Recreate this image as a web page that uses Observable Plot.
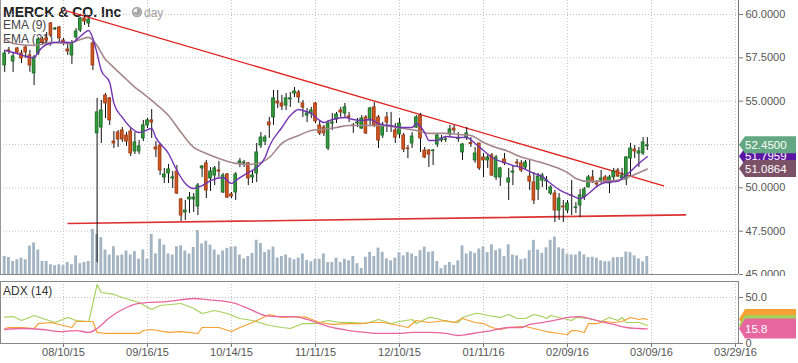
<!DOCTYPE html>
<html><head><meta charset="utf-8">
<script src="https://cdn.jsdelivr.net/npm/d3@7"></script>
<script src="https://cdn.jsdelivr.net/npm/@observablehq/plot@0.6"></script>
<style>
body{margin:0;background:#fff;}
#chart{position:relative;width:798px;height:363px;overflow:hidden;background:#fff;}
</style></head><body><div id="chart"></div>
<script>
// ---------- data ----------
const open = [
57.06,57.93,57.29,58.04,57.75,58.10,57.64,56.60,57.75,58.56,
58.62,59.48,59.14,59.25,58.50,57.98,57.64,58.68,59.08,59.77,
59.48,58.33,53.14,53.48,55.33,55.16,52.67,53.19,53.31,53.02,
53.25,52.10,52.10,52.85,53.60,53.89,52.33,52.44,50.60,50.83,
50.54,50.94,49.33,48.58,49.33,49.33,48.92,51.12,51.41,50.54,
50.71,51.00,49.73,50.77,49.62,49.73,51.41,51.41,51.41,50.60,
50.83,52.44,52.67,53.77,54.06,54.98,54.87,54.75,55.10,55.44,
55.50,54.87,54.17,54.29,54.87,53.60,53.48,52.27,53.71,53.94,
54.46,54.29,54.12,53.60,53.71,53.42,54.06,53.89,54.64,54.06,
53.02,54.06,53.54,53.31,53.08,53.02,52.27,52.56,53.48,54.17,
52.15,52.15,52.12,52.50,52.73,52.76,53.08,53.42,52.82,52.04,
52.90,52.59,51.58,52.56,51.75,51.58,51.87,50.60,50.60,51.64,
50.31,50.88,51.46,51.41,51.17,50.65,50.31,49.90,50.42,50.37,
49.67,49.67,48.69,48.92,48.69,49.56,48.84,48.98,49.44,50.02,
50.60,50.25,50.42,50.60,50.25,50.60,51.00,50.54,50.48,51.69,
52.21,51.98,51.98,52.40];
const high = [
57.93,58.10,57.75,58.10,57.93,58.21,57.93,57.64,58.68,58.68,
58.96,59.54,59.25,59.31,58.62,58.33,58.50,59.19,59.83,59.94,
59.77,58.50,55.16,55.04,55.44,55.21,53.25,53.31,53.48,53.19,
53.42,53.19,52.73,53.89,54.00,54.52,52.67,52.56,51.12,51.35,
50.94,51.29,49.38,49.27,49.73,49.67,50.25,51.29,51.58,51.17,
51.23,51.52,50.83,50.83,49.73,50.88,51.69,51.58,51.46,51.00,
52.56,53.19,53.02,54.06,55.62,55.62,55.33,55.44,55.50,55.79,
55.62,55.04,54.58,54.64,54.92,53.89,53.60,53.89,54.29,54.35,
54.64,54.87,54.35,53.71,54.00,54.17,54.17,54.64,54.92,54.17,
53.77,54.35,54.35,53.71,54.00,53.14,52.44,53.19,54.17,54.29,
52.33,52.21,52.21,53.14,53.02,52.90,53.60,53.60,53.19,52.56,
53.48,52.90,52.33,52.56,51.98,51.87,51.98,51.87,51.17,51.98,
51.12,51.29,51.64,51.58,51.58,51.58,50.88,50.83,50.83,50.65,
50.13,49.85,49.67,49.27,49.27,50.42,49.15,49.90,50.02,50.71,
51.00,50.42,51.00,50.71,50.71,51.12,51.12,51.12,51.81,52.56,
52.44,52.33,52.90,52.90];
const low = [
56.66,57.69,56.66,57.75,57.17,57.46,56.66,55.90,57.64,58.21,
58.27,58.68,59.08,58.39,58.21,57.64,57.12,58.50,58.96,59.37,
59.25,56.77,45.69,52.56,54.00,53.60,52.27,52.33,52.62,52.39,
51.81,51.92,51.92,52.67,53.42,52.85,51.75,50.71,50.25,50.25,
49.96,49.62,48.06,48.12,48.52,48.58,48.40,50.60,49.38,49.79,
50.13,50.60,49.67,49.38,49.38,49.27,51.17,51.17,50.13,50.25,
50.31,52.27,52.44,52.85,53.60,54.58,54.46,54.46,54.64,55.21,
54.87,54.06,53.77,54.00,53.71,53.02,52.96,52.15,53.31,53.71,
54.06,54.06,53.77,53.14,53.48,53.37,53.08,53.60,53.48,52.27,
52.85,53.19,53.19,52.56,52.85,52.04,51.69,52.27,53.42,52.04,
51.69,51.17,51.29,52.33,52.62,52.62,52.90,53.14,52.62,51.58,
52.73,52.33,51.41,51.00,50.60,51.12,50.65,50.42,50.08,51.29,
49.27,50.13,51.17,50.88,51.06,49.85,49.04,49.27,50.02,49.85,
49.56,48.00,48.12,48.00,48.52,48.40,48.52,48.29,49.27,50.02,
50.25,50.02,50.25,50.25,49.67,50.42,50.60,50.42,50.13,50.60,
51.69,51.17,51.87,52.15];
const close = [
57.75,57.88,57.58,57.81,57.46,57.81,57.06,57.52,58.56,58.39,
58.50,58.79,59.19,58.62,58.39,57.87,58.33,59.02,59.77,59.60,
59.71,57.06,54.35,54.46,54.87,53.89,52.56,52.79,52.79,52.67,
51.98,52.62,52.39,53.60,53.89,53.77,52.21,51.00,50.77,51.06,
50.60,49.67,48.40,48.69,49.44,49.44,50.13,51.23,49.85,50.94,
51.12,50.94,50.71,49.44,49.50,50.77,51.52,51.46,50.54,50.71,
52.04,52.90,52.90,53.60,55.16,54.87,54.69,55.16,55.16,55.56,
55.21,54.64,54.29,54.46,53.83,53.14,53.14,53.71,53.77,54.23,
54.35,54.64,54.06,53.57,53.77,54.00,53.14,54.58,53.60,52.73,
53.60,53.77,53.51,52.90,53.71,52.21,52.24,52.96,54.06,52.85,
51.75,51.92,52.15,53.02,52.85,52.79,53.37,53.31,52.85,52.50,
53.14,52.53,51.98,51.12,51.58,51.75,50.71,51.75,51.12,51.41,
50.54,50.94,51.41,51.00,51.46,50.36,49.27,50.65,50.71,50.42,
50.02,48.69,49.38,48.87,49.10,49.53,48.87,49.56,49.90,50.60,
50.31,50.19,50.54,50.31,50.60,50.94,50.65,50.71,51.75,52.27,
52.10,52.10,52.62,52.45];
const volume = [
12.0,11.3,8.7,9.8,10.9,9.8,18.9,21.1,16.3,8.7,
8.7,6.5,5.9,6.5,5.9,8.0,6.5,12.4,7.2,8.0,
8.7,30.0,26.7,24.6,16.3,13.0,18.5,12.4,13.0,15.7,
13.0,15.2,10.2,16.3,10.2,26.7,13.7,23.5,19.6,13.7,
13.0,18.5,19.1,15.7,13.7,18.0,29.3,20.4,22.2,19.6,
16.3,13.0,15.7,17.4,18.3,18.5,13.0,10.4,12.0,14.1,
22.8,20.7,14.6,16.3,18.3,10.9,12.0,13.0,10.9,9.8,
10.9,13.7,9.3,8.5,10.2,10.2,13.7,8.0,8.0,10.9,
8.0,10.2,9.1,12.0,7.2,4.1,11.5,14.8,12.0,17.6,
14.8,10.4,9.1,10.9,14.6,
12.4,14.6,13.7,12.0,15.9,18.3,14.8,15.2,8.7,3.9,
6.1,8.0,6.1,9.1,19.1,13.7,15.2,14.1,17.0,18.5,
14.6,19.8,15.9,17.0,12.0,19.8,13.0,12.4,9.8,10.4,
15.9,22.8,16.3,14.1,17.8,22.8,25.0,17.8,17.0,13.5,
13.0,13.0,15.2,13.0,11.3,11.5,10.9,9.1,8.5,8.5,
11.1,11.3,11.3,15.0,14.6,12.4,10.4,8.5,12.0];

const ema9Idx = [0,2,7,8,10,13,16,18,20,21,22,23,25,26,28,30,32,35,36,39,41,43,45,47,49,52,54,55,58,60,62,63,66,68,70,71,73,75,76,78,81,83,85,87,89,90,93,94,97,98,100,101,103,105,108,110,112,114,116,119,121,123,126,128,130,132,135,137,139,141,143,146,147,149,151,153];
const ema9Val = [57.93,57.81,57.50,57.85,58.27,58.42,58.38,58.73,59.08,58.62,57.75,56.77,56.08,54.87,54.06,53.48,53.19,53.42,52.90,51.98,51.00,50.25,49.96,50.13,50.42,50.60,50.25,50.42,50.88,51.17,51.75,52.39,53.48,54.17,54.52,54.46,54.29,53.89,53.77,53.94,54.06,53.94,53.89,53.94,53.71,53.65,53.54,53.48,53.48,53.71,53.19,52.73,52.73,52.96,52.90,52.90,52.56,52.15,51.75,51.46,51.29,51.17,50.83,50.65,50.25,49.90,49.56,49.38,49.67,50.08,50.31,50.37,50.54,50.94,51.41,51.7959];
const ema21Idx = [0,2,7,11,15,18,20,22,24,25,27,29,31,33,35,39,42,45,48,51,55,58,61,63,66,70,73,76,79,82,85,89,92,95,98,101,105,108,111,114,117,120,122,126,130,134,136,139,142,145,147,150,153];
const ema21Val = [58.62,58.33,58.21,58.39,58.33,58.56,58.68,58.20,57.40,57.17,56.70,56.25,55.80,55.44,55.04,54.17,53.19,52.33,51.98,51.69,51.41,51.35,51.46,51.75,52.56,53.02,53.31,53.37,53.48,53.60,53.60,53.60,53.54,53.42,53.31,53.14,53.14,53.08,53.02,52.62,52.33,52.10,51.87,51.58,51.29,50.88,50.54,50.37,50.37,50.42,50.48,50.77,51.0864];

const resistIdx = [14.5,156.9], resistVal = [60.23,50.11];
const supportIdx = [15.1,162.1], supportVal = [47.94,48.44];

const adxIdx = [0,4,9,13,17,20,22,25,29,32,39,45,48,54,58,62,65,69,72,75,78,82,86,90,94,97,101,105,108,110,113,116,120,123,125,128,132,134,137,140,142,145,148,151,153];
const adxVal = [15.2,16.3,15.2,13.0,14.1,12.0,16.3,28.3,39.1,43.5,45.7,48.9,47.8,44.6,38.0,30.4,29.3,29.3,26.1,21.7,17.4,14.1,12.0,10.9,10.9,12.0,12.0,10.9,8.7,9.8,12.0,14.1,17.4,17.4,20.7,22.8,26.1,28.3,29.3,26.1,23.9,20.7,17.4,16.3,15.8];
const diMinusIdx = [0,2,4,7,9,12,15,17,20,21,22,23,26,28,32,35,37,42,45,47,50,53,56,59,63,66,68,71,74,77,80,83,86,89,92,94,97,98,101,103,105,108,109,112,113,115,118,120,122,124,126,128,129,130,132,135,136,139,142,144,146,147,148,151,153];
const diMinusVal = [28.6,29.3,25.0,30.4,27.2,22.8,28.3,25.0,23.9,43.5,64.1,55.4,53.3,50.0,44.6,37.0,41.3,43.5,38.0,32.6,35.9,32.6,27.2,25.0,19.6,17.4,16.3,21.7,21.7,25.0,22.8,22.8,21.7,26.1,21.7,23.9,26.1,21.7,28.3,27.2,23.9,22.8,28.3,32.6,32.6,30.4,28.3,31.5,27.2,27.2,31.5,29.3,27.2,30.4,28.3,25.0,28.3,27.2,23.9,28.3,25.0,28.3,22.8,22.8,19.6];
const diPlusIdx = [0,1,4,7,8,11,14,16,17,20,21,22,24,28,32,33,35,39,42,46,47,51,54,56,59,63,66,69,72,75,78,82,85,87,90,94,96,98,101,103,105,107,109,112,114,116,118,120,123,124,126,129,132,134,135,136,138,139,141,143,145,147,149,151,152,153];
const diPlusVal = [16.3,17.4,17.4,16.3,21.7,22.8,19.6,17.4,23.9,23.9,23.9,12.0,10.9,10.9,10.9,14.1,15.2,12.0,13.0,10.9,17.4,17.4,13.0,17.4,22.8,31.5,28.3,29.3,28.3,22.8,20.7,21.7,21.7,22.8,22.8,19.6,17.4,25.0,22.8,23.9,25.0,22.8,27.2,22.8,21.7,17.4,15.2,17.4,18.5,18.5,16.3,13.0,10.9,9.8,14.1,14.1,12.0,21.7,21.7,23.9,22.8,23.9,28.3,26.1,27.2,26.1];

const tickIdx = [14,34,54,74,94,114,134,154,174];
const tickLabels = ["08/10/15","09/16/15","10/14/15","11/11/15","12/10/15","01/11/16","02/09/16","03/09/16","03/29/16"];
const priceTicks = [45,47.5,50,52.5,55,57.5,60];
const adxTicks = [0,50];

// ---------- build ----------
const font = '"Liberation Sans", Arial, Helvetica, sans-serif';
const xDomain = [-1, 174.714];
const W = 798, MR = 60;
const bars = open.map((o,i)=>({i, open:o, high:high[i], low:low[i], close:close[i], vol:volume[i]}));
const pts = (I,V)=>I.map((x,k)=>({i:x, v:V[k]}));
const labelOf = new Map(tickIdx.map((d,k)=>[d,tickLabels[k]]));
const dotted = {stroke:"#c4c4c4", strokeOpacity:1, strokeDasharray:"1,2"};
const baseStyle = (top)=>({position:"absolute", left:"0px", top:top+"px", background:"transparent", fontFamily:font, fontSize:"11px", color:"#555", overflow:"hidden"});
const chart = document.getElementById("chart");

function addText(sel, x, y, txt, size, fill, weight) {
  return sel.append("text").attr("x", x).attr("y", y).attr("text-anchor", "start")
    .attr("font-family", font).attr("font-size", size).attr("font-weight", weight || "normal")
    .attr("fill", fill).text(txt);
}

// volume layer (with header labels)
const volPlot = Plot.plot({
  width: W, height: 276, marginLeft: 0, marginRight: MR, marginTop: 0, marginBottom: 2,
  x: {domain: xDomain, axis: null}, y: {domain: [0, 182.7], axis: null},
  style: baseStyle(0),
  marks: [
    Plot.rectY(bars, {x1: d=>d.i-0.34, x2: d=>d.i+0.34, y: "vol", fill: "#a3b5c3"})
  ]
});
chart.appendChild(volPlot);
const vs = d3.select(volPlot);
addText(vs, 3, 17, "MERCK & CO. Inc", 14, "#222", "bold");
vs.append("circle").attr("cx",137).attr("cy",12).attr("r",5.2).attr("fill","#a6a6a6");
vs.append("circle").attr("cx",137).attr("cy",12).attr("r",3.4).attr("fill","#fff");
vs.append("path").attr("d","M137,12L137,8.6A3.4,3.4 0 1,1 133.6,12Z").attr("fill","#a6a6a6");
addText(vs, 144, 17, "day", 12, "#a0a0a0");
addText(vs, 3, 28.5, "EMA (9)", 12, "#444");
addText(vs, 3, 42.5, "EMA (21)", 12, "#444");

// price layer
const pricePlot = Plot.plot({
  width: W, height: 276, marginLeft: 0, marginRight: MR, marginTop: 0, marginBottom: 2,
  x: {domain: xDomain, axis: null}, y: {domain: [45, 45 + 274*15/260]},
  style: baseStyle(0),
  marks: [
    Plot.gridY(priceTicks.slice(1), dotted),
    Plot.gridX(tickIdx, dotted),
    Plot.ruleX([xDomain[0]], {stroke: "#999"}),
    Plot.ruleY([priceTicks[0]], {stroke: "#888"}),
    Plot.axisY(priceTicks, {anchor: "right", label: null, tickSize: 4, tickPadding: 3, tickFormat: d3.format(".4f"), fill: "#555", stroke: "#777"}),
    Plot.ruleX([xDomain[1]], {stroke: "#777"}),
    Plot.line(pts(supportIdx, supportVal), {x: "i", y: "v", stroke: "#d91c1c", strokeWidth: 1.6, strokeOpacity: 0.9}),
    Plot.line(pts(resistIdx, resistVal), {x: "i", y: "v", stroke: "#e0231f", strokeWidth: 1.3}),
    Plot.ruleX(bars, {x: "i", y1: "low", y2: "high", stroke: "#111", strokeWidth: 1}),
    Plot.rect(bars, {x1: d=>d.i-0.32, x2: d=>d.i+0.32, y1: "open", y2: "close",
      fill: d=>d.close>=d.open ? "#2f9d3b" : "#d3561f",
      stroke: d=>d.close>=d.open ? "#1c6a24" : "#9c3a12", strokeWidth: 0.9}),
    Plot.line(pts(ema21Idx, ema21Val), {x: "i", y: "v", stroke: "#a5868d", strokeWidth: 1.6, curve: "monotone-x"}),
    Plot.line(pts(ema9Idx, ema9Val), {x: "i", y: "v", stroke: "#7433b3", strokeWidth: 1.4, curve: "monotone-x"})
  ]
});
chart.appendChild(pricePlot);

function addTag(svg, yc, h, fill, label) {
  svg.append("path").attr("d", `M739,${yc}L745,${yc-h/2}L796,${yc-h/2}L796,${yc+h/2}L745,${yc+h/2}Z`).attr("fill", fill);
  if (label) svg.append("text").attr("x", 745).attr("y", yc).attr("dy", "0.36em").attr("fill", "#fff")
    .attr("text-anchor", "start").attr("font-family", font).attr("font-size", 11.5).text(label);
}
const ps = d3.select(pricePlot), py = pricePlot.scale("y");
const f4 = d3.format(".4f");
addTag(ps, py.apply(ema9Val[ema9Val.length-1]), 17, "#5c17a2", f4(ema9Val[ema9Val.length-1]));
addTag(ps, py.apply(close[close.length-1]), 17, "#63a882", f4(close[close.length-1]));
addTag(ps, py.apply(ema21Val[ema21Val.length-1]), 17, "#7b5167", f4(ema21Val[ema21Val.length-1]));

// ADX layer
const adxPlot = Plot.plot({
  width: W, height: 93, marginLeft: 0, marginRight: MR, marginTop: 11, marginBottom: 20,
  x: {domain: xDomain}, y: {domain: [0, 67.39]},
  style: baseStyle(270),
  marks: [
    Plot.gridY([adxTicks[1]], dotted),
    Plot.gridX(tickIdx, dotted),
    Plot.frame({stroke: "#888"}),
    Plot.axisY(adxTicks, {anchor: "right", label: null, tickSize: 4, tickPadding: 3, tickFormat: d=>d===0 ? "0" : d.toFixed(1), fill: "#555", stroke: "#777"}),
    Plot.axisX(tickIdx, {anchor: "bottom", label: null, tickSize: 4, tickPadding: 1, tickFormat: d=>labelOf.get(d), fill: "#555", stroke: "#777"}),
    Plot.line(pts(diMinusIdx, diMinusVal), {x: "i", y: "v", stroke: "#a6d05c", strokeWidth: 1.2}),
    Plot.line(pts(diPlusIdx, diPlusVal), {x: "i", y: "v", stroke: "#f5a032", strokeWidth: 1.2}),
    Plot.line(pts(adxIdx, adxVal), {x: "i", y: "v", stroke: "#e8669f", strokeWidth: 1.3, curve: "monotone-x"})
  ]
});
chart.appendChild(adxPlot);
const as = d3.select(adxPlot), ay = adxPlot.scale("y");
const f1 = d3.format(".1f");
addTag(as, ay.apply(diPlusVal[diPlusVal.length-1]), 20, "#f5a032", null);
addTag(as, ay.apply(diMinusVal[diMinusVal.length-1]), 20, "#a6d05c", null);
addTag(as, ay.apply(adxVal[adxVal.length-1]), 20, "#e8669f", f1(adxVal[adxVal.length-1]));
addText(as, 3, 25, "ADX (14)", 12, "#333");
</script></body></html>
